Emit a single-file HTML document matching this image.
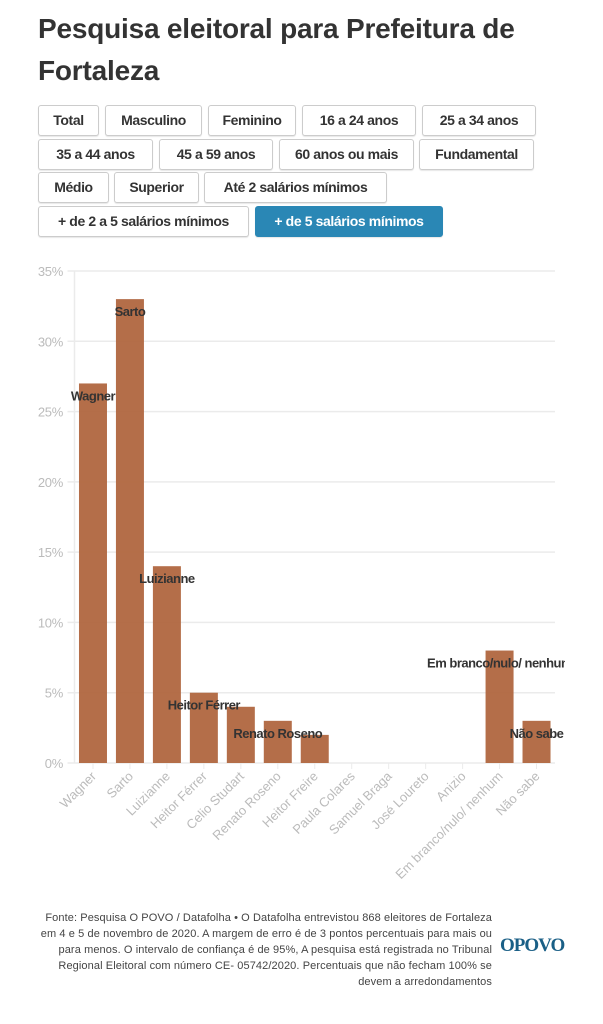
<!DOCTYPE html>
<html><head><meta charset="utf-8"><style>
body{margin:0;width:603px;height:1024px;background:#fff;font-family:"Liberation Sans",sans-serif;position:relative;overflow:hidden}
h1{position:absolute;left:38px;top:8px;margin:0;font-size:28px;letter-spacing:-0.2px;line-height:42px;font-weight:bold;color:#333;width:545px}
.b{position:absolute;height:31px;box-sizing:border-box;border:1.5px solid #ccc;border-radius:3px;background:#fff;color:#333;font-weight:bold;font-size:14px;letter-spacing:-0.4px;line-height:29px;text-align:center;box-shadow:0 1px 1px rgba(0,0,0,.1);white-space:nowrap}
.b.on{background:#2a87b5;color:#fff;border-color:#2a87b5}
.foot{position:absolute;left:0px;top:910px;width:492px;text-align:right;font-size:11px;letter-spacing:0.1px;line-height:16px;color:#444;white-space:nowrap}
.logo{position:absolute;left:500px;top:935px;font-family:"Liberation Serif",serif;font-weight:bold;font-size:19px;color:#1a5f86;letter-spacing:-1px}
</style></head><body>
<h1>Pesquisa eleitoral para Prefeitura de Fortaleza</h1>
<div class="b" style="left:38px;top:105px;width:61px">Total</div>
<div class="b" style="left:105px;top:105px;width:97px">Masculino</div>
<div class="b" style="left:208px;top:105px;width:88px">Feminino</div>
<div class="b" style="left:302px;top:105px;width:114px">16 a 24 anos</div>
<div class="b" style="left:422px;top:105px;width:114px">25 a 34 anos</div>
<div class="b" style="left:38px;top:139px;width:115px">35 a 44 anos</div>
<div class="b" style="left:159px;top:139px;width:114px">45 a 59 anos</div>
<div class="b" style="left:279px;top:139px;width:135px">60 anos ou mais</div>
<div class="b" style="left:419px;top:139px;width:115px">Fundamental</div>
<div class="b" style="left:38px;top:172px;width:71px">Médio</div>
<div class="b" style="left:114px;top:172px;width:85px">Superior</div>
<div class="b" style="left:204px;top:172px;width:183px">Até 2 salários mínimos</div>
<div class="b" style="left:38px;top:206px;width:211px">+ de 2 a 5 salários mínimos</div>
<div class="b on" style="left:255px;top:206px;width:188px">+ de 5 salários mínimos</div>
<svg id="chart" width="603" height="900" style="position:absolute;left:0;top:0" xmlns="http://www.w3.org/2000/svg"></svg>
<div class="foot">Fonte: Pesquisa O POVO / Datafolha • O Datafolha entrevistou 868 eleitores de Fortaleza<br>em 4 e 5 de novembro de 2020. A margem de erro é de 3 pontos percentuais para mais ou<br>para menos. O intervalo de confiança é de 95%, A pesquisa está registrada no Tribunal<br>Regional Eleitoral com número CE- 05742/2020. Percentuais que não fecham 100% se<br>devem a arredondamentos</div>
<div class="logo">OPOVO</div>
<script>
const categories=["Wagner","Sarto","Luizianne","Heitor Férrer","Celio Studart","Renato Roseno","Heitor Freire","Paula Colares","Samuel Braga","José Loureto","Anizio","Em branco/nulo/ nenhum","Não sabe"];
const values=[27,33,14,5,4,3,2,0,0,0,0,8,3];
const hiddenLabels=["Celio Studart","Heitor Freire"];
const yTicks=[0,5,10,15,20,25,30,35];
const NS="http://www.w3.org/2000/svg";
const svg=document.getElementById('chart');
const x0=74.5,x1=555,y0=763,y1=271,yMax=35;
const band=(x1-x0)/categories.length;
const xc=i=>x0+band*(i+0.5);
const y=v=>y0-(v/yMax)*(y0-y1);
function mk(t,a){const e=document.createElementNS(NS,t);for(const k in a)e.setAttribute(k,a[k]);svg.appendChild(e);return e;}
const defs=mk('defs',{});const cp=document.createElementNS(NS,'clipPath');cp.setAttribute('id','cl');const cr=document.createElementNS(NS,'rect');cr.setAttribute('x',0);cr.setAttribute('y',0);cr.setAttribute('width',565);cr.setAttribute('height',900);cp.appendChild(cr);defs.appendChild(cp);
yTicks.forEach(t=>{
 const l=mk('line',{x1:x0-7,x2:x1,y1:y(t),y2:y(t),stroke:'#ebebeb','stroke-width':1.5});
 
 
 const tx=mk('text',{x:63,y:y(t)+5,'text-anchor':'end','font-size':13,fill:'#bbb','letter-spacing':'-0.3','font-family':'Liberation Sans,sans-serif'});
 tx.textContent=t+'%';
 
 
});
mk('line',{x1:x0,x2:x0,y1:y1,y2:y0,stroke:'#ebebeb','stroke-width':1.5});
const labels=[];
categories.forEach((c,i)=>{
 const bw=28;
 if(values[i]>0){
  const r=mk('rect',{x:xc(i)-bw/2,y:y(values[i]),width:bw,height:y0-y(values[i]),fill:'#b0663f','fill-opacity':0.95});
  
  
  if(!hiddenLabels.includes(c)) labels.push([i,c]);
 }
 mk('line',{x1:xc(i),x2:xc(i),y1:y0,y2:y0+6,stroke:'#ebebeb'});
 const tx=mk('text',{x:xc(i)+4,y:y0+14,'text-anchor':'end','font-size':13,fill:'#bbb','font-family':'Liberation Sans,sans-serif',transform:`rotate(-45 ${xc(i)+4} ${y0+14})`});
 tx.textContent=c;
 
 
});
const lab=mk('g',{'clip-path':'url(#cl)'});
labels.forEach(([i,c])=>{
  const t=document.createElementNS(NS,'text');
  t.setAttribute('x',xc(i));t.setAttribute('y',y(values[i])+17);t.setAttribute('text-anchor','middle');
  t.setAttribute('font-size',13);t.setAttribute('font-weight','bold');t.setAttribute('fill','#333');t.setAttribute('letter-spacing','-0.5');
  t.setAttribute('font-family','Liberation Sans,sans-serif');
  t.textContent=c;
  
  
  lab.appendChild(t);
});
</script>
</body></html>
